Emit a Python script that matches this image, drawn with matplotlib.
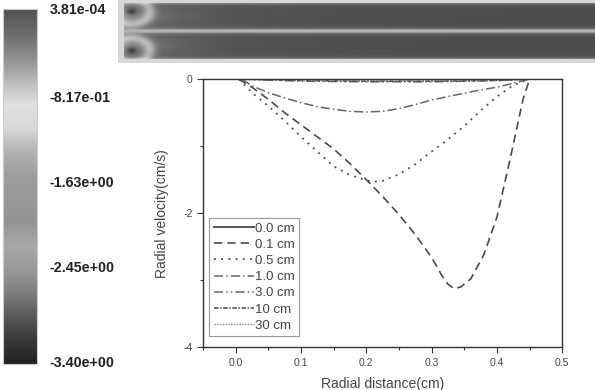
import numpy as np
import matplotlib
matplotlib.use('Agg')
import matplotlib.pyplot as plt
from matplotlib.colors import LinearSegmentedColormap

plt.rcParams['font.family'] = ['Liberation Sans', 'DejaVu Sans']

# colour bar labels (top to bottom)
cbar_labels = ['3.81e-04', '-8.17e-01', '-1.63e+00', '-2.45e+00', '-3.40e+00']
cbar_vmin, cbar_vmax = -3.40, 3.81e-4
# grey levels along the colour bar (bottom -> top)
cbar_grays = [0.13, 0.22, 0.35, 0.50, 0.60, 0.66, 0.58, 0.60, 0.62, 0.70, 0.85, 0.88, 0.72, 0.55, 0.42, 0.33]

# radial velocity profiles
labels = ['0.0 cm', '0.1 cm', '0.5 cm', '1.0 cm', '3.0 cm', '10 cm', '30 cm']
x_00 = [0.0, 0.45]
v_00 = [0.0, 0.0]
x_01 = [0.005, 0.025, 0.05, 0.075, 0.1, 0.125, 0.15, 0.175, 0.2, 0.225, 0.25, 0.275,
        0.3, 0.315, 0.325, 0.335, 0.345, 0.36, 0.38, 0.4, 0.42, 0.44, 0.45]
v_01 = [0.0, -0.12, -0.3, -0.5, -0.68, -0.86, -1.04, -1.26, -1.5, -1.75, -2.02, -2.32,
        -2.66, -2.92, -3.06, -3.13, -3.1, -2.98, -2.62, -2.06, -1.2, -0.3, 0.0]
x_05 = [0.005, 0.025, 0.05, 0.075, 0.1, 0.125, 0.15, 0.175, 0.2, 0.21, 0.225, 0.25, 0.275,
        0.3, 0.325, 0.35, 0.375, 0.4, 0.425, 0.45]
v_05 = [0.0, -0.2, -0.4, -0.62, -0.86, -1.08, -1.3, -1.43, -1.51, -1.53, -1.52, -1.42, -1.27,
        -1.08, -0.9, -0.7, -0.47, -0.26, -0.09, 0.0]
x_10 = [0.01, 0.025, 0.05, 0.075, 0.1, 0.125, 0.15, 0.175, 0.2, 0.225, 0.25, 0.275, 0.3,
        0.325, 0.35, 0.375, 0.4, 0.425, 0.45]
v_10 = [0.0, -0.1, -0.2, -0.28, -0.35, -0.41, -0.45, -0.48, -0.49, -0.48, -0.44, -0.38, -0.31,
        -0.26, -0.21, -0.16, -0.12, -0.06, 0.0]
x_30 = [0.01, 0.1, 0.2, 0.3, 0.4, 0.45]
v_30 = [0.0, -0.03, -0.04, -0.04, -0.02, 0.0]
x_100 = [0.01, 0.1, 0.2, 0.3, 0.4, 0.45]
v_100 = [0.0, -0.02, -0.03, -0.03, -0.02, 0.0]
x_300 = [0.01, 0.1, 0.2, 0.3, 0.4, 0.45]
v_300 = [0.0, -0.01, -0.02, -0.02, -0.01, 0.0]

fig = plt.figure(figsize=(5.95, 3.9), dpi=100)

# ---- colour bar on the left
cax = fig.add_axes([0.005, 0.067, 0.057, 0.91])
cmap = LinearSegmentedColormap.from_list('cb', [(g, g, g) for g in cbar_grays])
grad = np.linspace(cbar_vmin, cbar_vmax, 256).reshape(-1, 1)
cax.imshow(grad, aspect='auto', origin='lower', cmap=cmap,
           extent=[0, 1, cbar_vmin, cbar_vmax])
cax.set_xticks([])
cax.set_yticks([])
for s in cax.spines.values():
    s.set_color('#cccccc')
label_y = [0.975, 0.748, 0.53, 0.312, 0.068]
for lab, yy in zip(cbar_labels, label_y):
    fig.text(0.083, yy, lab, fontsize=10.3, fontweight='bold', color='#222222',
             ha='left', va='center')

# ---- contour strip at the top (two channels)
H, W = 63, 477
img = np.full((H, W), 0.84)
u = np.arange(W) - 6.0
for y0, y1, vy in [(4, 30, 0.32), (33, 59, 0.68)]:
    rows = np.arange(y0, y1)
    v = (rows - y0) / (y1 - y0 - 1.0)
    U, V = np.meshgrid(u, v)
    r = np.sqrt(((U - 7) / 14.0) ** 2 + ((V - vy) / 0.38) ** 2)
    val = 0.30 + 0.05 * np.exp(-U / 120.0)
    val += 0.28 * np.exp(-((r - 1.3) ** 2) / 0.2) * (U > -2)
    val += 0.22 * np.exp(-U / 40.0) * np.exp(-((V - 0.5) ** 2) / 0.2)
    val -= 0.25 * np.exp(-r ** 2 / 0.12)
    val += 0.15 * np.exp(-V / 0.06) + 0.15 * np.exp(-(1 - V) / 0.06)
    val[:, u < 0] = 0.84
    img[y0:y1, :] = np.clip(val, 0, 1)
img[30:33, 6:] = 0.70
iax = fig.add_axes([0.198, 0.838, 0.802, 0.162])
iax.imshow(img, cmap='gray', vmin=0, vmax=1, aspect='auto', interpolation='bilinear')
iax.axis('off')

# ---- radial velocity plot
ax = fig.add_axes([0.341, 0.110, 0.604, 0.687])
lc = '#4a4a4a'
ax.plot(x_00, v_00, color=lc, lw=1.3, ls='-', label=labels[0])
ax.plot(x_01, v_01, color=lc, lw=1.2, ls=(0, (5, 3)), label=labels[1])
ax.plot(x_05, v_05, color=lc, lw=1.3, ls=(0, (1, 3)), label=labels[2])
ax.plot(x_10, v_10, color='#666666', lw=1.1, ls=(0, (6, 2, 1, 2)), label=labels[3])
ax.plot(x_30, v_30, color='#666666', lw=1.1, ls=(0, (6, 2, 1, 2, 1, 2)), label=labels[4])
ax.plot(x_100, v_100, color=lc, lw=1.1, ls=(0, (3, 1, 1, 1)), label=labels[5])
ax.plot(x_300, v_300, color='#888888', lw=1.0, ls=(0, (1, 1)), label=labels[6])

ax.set_xlim(-0.05, 0.5)
ax.set_ylim(-4, 0)
ax.set_xticks([0.0, 0.1, 0.2, 0.3, 0.4, 0.5])
ax.set_xticklabels(['0.0', '0.1', '0.2', '0.3', '0.4', '0.5'])
ax.set_xticks([-0.05, 0.05, 0.15, 0.25, 0.35, 0.45], minor=True)
ax.set_yticks([-4, -2, 0])
ax.set_yticklabels(['-4', '-2', '0'])
ax.set_yticks([-3, -1], minor=True)
ax.tick_params(direction='out', length=4, width=0.8, colors='#333333', labelsize=7.5,
               labelcolor='#444444')
ax.tick_params(which='minor', direction='out', length=2.5, width=0.8, colors='#333333')
for s in ax.spines.values():
    s.set_color('#333333')
    s.set_linewidth(1.0)
ax.set_xlabel('Radial distance(cm)', fontsize=10, color='#444444', labelpad=7)
ax.set_ylabel('Radial velocity(cm/s)', fontsize=10, color='#444444', labelpad=10)

leg = ax.legend(loc='lower left', bbox_to_anchor=(0.0, 0.015), fontsize=9.5,
                handlelength=3.0, handletextpad=0.1, labelspacing=0.3,
                borderpad=0.35, fancybox=False, framealpha=1)
leg.get_frame().set_edgecolor('#999999')
leg.get_frame().set_linewidth(0.8)
for t in leg.get_texts():
    t.set_color('#444444')

plt.savefig('out.png', dpi=100)
